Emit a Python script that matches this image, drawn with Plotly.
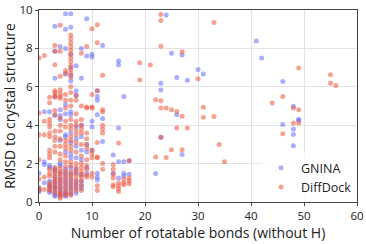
import plotly.graph_objects as go

# GNINA points: (rotatable bonds, RMSD)
gnina_bonds = (
    [0]*4 + [1]*4 + [2]*8 + [3]*15 + [4]*14 + [5]*18 + [6]*19 + [7]*13 + [8]*10 + [9]*6
    + [10]*5 + [11]*7 + [12]*3 + [14]*2 + [15]*5 + [16]*4 + [17]*2 + [22] + [23]*3 + [24]
    + [25] + [26]*2 + [27]*2 + [28] + [30] + [31] + [41] + [42] + [46]*2 + [48]*4 + [49]*2
)
gnina_rmsd = [
    1.5, 0.75, 0.6, 0.55,
    2.1, 1.95, 4.7, 1.0,
    4.7, 1.9, 1.8, 1.1, 0.9, 0.8, 0.6, 0.5,
    9.15, 7.85, 6.45, 5.5, 4.5, 1.75, 1.6, 1.3, 1.1, 0.95, 0.8, 0.7, 0.5, 0.35, 0.3,
    8.1, 4.8, 4.5, 4.3, 3.2, 2.0, 1.9, 1.5, 1.2, 1.0, 0.8, 0.6, 0.45, 0.35,
    9.8, 9.0, 8.0, 6.65, 5.08, 4.6, 3.5, 3.4, 2.6, 1.7, 1.5, 1.3, 1.1, 0.9, 0.7, 0.5, 0.4, 0.3,
    9.8, 9.1, 7.7, 7.0, 6.6, 6.3, 4.7, 4.55, 3.6, 3.1, 2.5, 2.3, 1.8, 1.5, 1.2, 1.0, 0.8, 0.6, 0.4,
    7.1, 5.8, 5.55, 3.9, 3.3, 2.9, 2.3, 1.7, 1.5, 1.1, 0.9, 0.7, 0.45,
    8.0, 6.45, 4.0, 3.4, 2.7, 2.2, 1.4, 1.1, 0.9, 0.7,
    9.55, 7.6, 3.0, 2.6, 1.8, 1.5,
    7.7, 7.55, 4.2, 3.9, 2.7,
    5.8, 5.5, 5.3, 4.55, 1.5, 1.3, 1.15,
    8.15, 4.35, 3.15,
    2.45, 1.5,
    7.35, 7.15, 3.85, 2.1, 1.25,
    5.5, 2.1, 1.5, 1.35,
    2.15, 1.45,
    1.48,
    6.18, 5.83, 3.37,
    9.74,
    7.75,
    6.49, 4.55,
    7.65, 2.48,
    6.34,
    6.9,
    6.67,
    8.38,
    7.5,
    6.28, 4.03,
    4.99, 3.8, 3.52, 2.93,
    4.3, 4.26,
]

# DiffDock points
diffdock_bonds = (
    [0]*7 + [1]*5 + [2]*17 + [3]*24 + [4]*26 + [5]*21 + [6]*33 + [7]*17 + [8]*16 + [9]*12
    + [10]*9 + [11]*8 + [12]*8 + [14]*6 + [15]*5 + [16]*3 + [17]*4 + [19]*2 + [21] + [22]*2
    + [23]*6 + [24]*2 + [25]*2 + [26]*2 + [27]*3 + [28] + [30] + [31]*2 + [33]*2 + [34] + [35]
    + [44] + [46]*2 + [48]*2 + [49]*3 + [55]*2 + [56]
)
diffdock_rmsd = [
    7.5, 4.64, 3.5, 2.2, 1.2, 0.7, 0.65,
    7.63, 4.2, 3.5, 1.3, 0.65,
    5.45, 5.17, 4.3, 4.1, 3.9, 3.6, 3.4, 2.7, 2.5, 2.3, 1.7, 1.5, 1.35, 1.0, 0.85, 0.7, 0.6,
    8.15, 7.85, 7.15, 5.8, 5.7, 5.55, 5.45, 4.76, 4.55, 3.7, 3.4, 3.2, 2.9, 2.6, 1.8, 1.65,
    1.5, 1.35, 1.2, 1.05, 0.9, 0.75, 0.6, 0.45,
    9.2, 7.85, 6.55, 5.85, 5.65, 5.5, 5.4, 4.38, 4.0, 3.7, 3.3, 2.9, 2.5, 2.2, 1.75, 1.6,
    1.45, 1.3, 1.15, 1.0, 0.85, 0.7, 0.55, 0.4, 0.3, 0.2,
    6.85, 6.7, 5.6, 5.3, 4.9, 4.2, 3.9, 3.2, 3.0, 2.8, 2.4, 2.1, 1.85, 1.6, 1.4, 1.2, 1.0,
    0.8, 0.6, 0.45, 0.35,
    8.7, 8.5, 8.3, 8.1, 7.9, 7.7, 7.5, 7.3, 7.1, 6.9, 6.7, 6.5, 6.0, 5.7, 5.3, 5.0, 4.3,
    4.0, 3.8, 3.4, 3.2, 2.9, 2.7, 2.1, 1.9, 1.6, 1.4, 1.3, 1.1, 0.9, 0.7, 0.5, 0.35,
    5.55, 5.3, 4.6, 4.2, 4.0, 3.7, 3.5, 3.1, 2.6, 2.0, 1.8, 1.6, 1.4, 1.2, 1.0, 0.8, 0.6,
    7.75, 5.0, 4.3, 4.0, 3.8, 3.6, 3.0, 2.4, 2.0, 1.8, 1.6, 1.45, 1.3, 1.1, 0.85, 0.6,
    8.1, 4.95, 4.9, 3.6, 3.3, 3.0, 2.8, 2.2, 1.9, 1.7, 1.4, 1.3,
    9.02, 5.6, 4.95, 4.9, 2.7, 2.5, 2.3, 1.5, 1.3,
    9.23, 8.29, 5.8, 3.1, 2.35, 2.3, 0.85, 0.6,
    6.6, 4.8, 4.7, 4.0, 3.8, 3.6, 2.0, 1.7,
    1.95, 1.7, 1.45, 1.25, 0.9, 0.8,
    3.07, 1.0, 0.85, 0.7, 0.55,
    1.2, 1.0, 0.9,
    2.15, 1.25, 1.1, 0.95,
    7.25, 6.35,
    7.14,
    5.32, 2.34,
    9.77, 9.45, 8.11, 5.27, 4.89, 3.37,
    4.89, 2.32,
    4.8, 2.72,
    4.72, 3.86,
    7.83, 4.47, 2.72,
    3.86,
    6.42,
    4.94, 4.42,
    9.35, 4.45,
    3.0,
    2.09,
    5.15,
    5.5, 3.55,
    4.89, 4.12,
    6.98, 4.8, 4.12,
    6.63, 6.19,
    6.07,
]

series_names = ["GNINA", "DiffDock"]
series_colors = ["#636EFA", "#EF553B"]

fig = go.Figure()
for name, xs, ys, col in [
    (series_names[0], gnina_bonds, gnina_rmsd, series_colors[0]),
    (series_names[1], diffdock_bonds, diffdock_rmsd, series_colors[1]),
]:
    fig.add_trace(go.Scatter(
        x=xs, y=ys, mode="markers", name=name,
        marker=dict(color=col, size=5, opacity=0.55, line=dict(width=0)),
    ))

axis_common = dict(
    showgrid=True, gridcolor="#e3e3e3", gridwidth=1,
    showline=True, linecolor="#444", linewidth=1, mirror=True,
    ticks="outside", ticklen=3, tickcolor="#444",
    tickfont=dict(size=11.5, color="#222"), zeroline=False,
    automargin=False,
)

fig.update_layout(
    width=366, height=244,
    margin=dict(l=39, r=9, t=10, b=42),
    paper_bgcolor="white", plot_bgcolor="white",
    font=dict(family="Open Sans", color="#222"),
    showlegend=True,
    legend=dict(
        x=1.0, y=0.0, xanchor="right", yanchor="bottom",
        bgcolor="rgba(255,255,255,0.85)", font=dict(size=12.5, color="#222"),
        itemsizing="trace", borderwidth=0,
        tracegroupgap=0,
    ),
    xaxis=dict(range=[0, 60], dtick=10,
               title=dict(text="Number of rotatable bonds (without H)", font=dict(size=14), standoff=4),
               **axis_common),
    yaxis=dict(range=[0, 10], dtick=2,
               title=dict(text="RMSD to crystal structure", font=dict(size=14), standoff=3),
               **axis_common),
)

fig.write_html(
    "out.html",
    config={"displayModeBar": False},
    post_script="document.body.style.margin='0';document.body.style.overflow='hidden';",
)
